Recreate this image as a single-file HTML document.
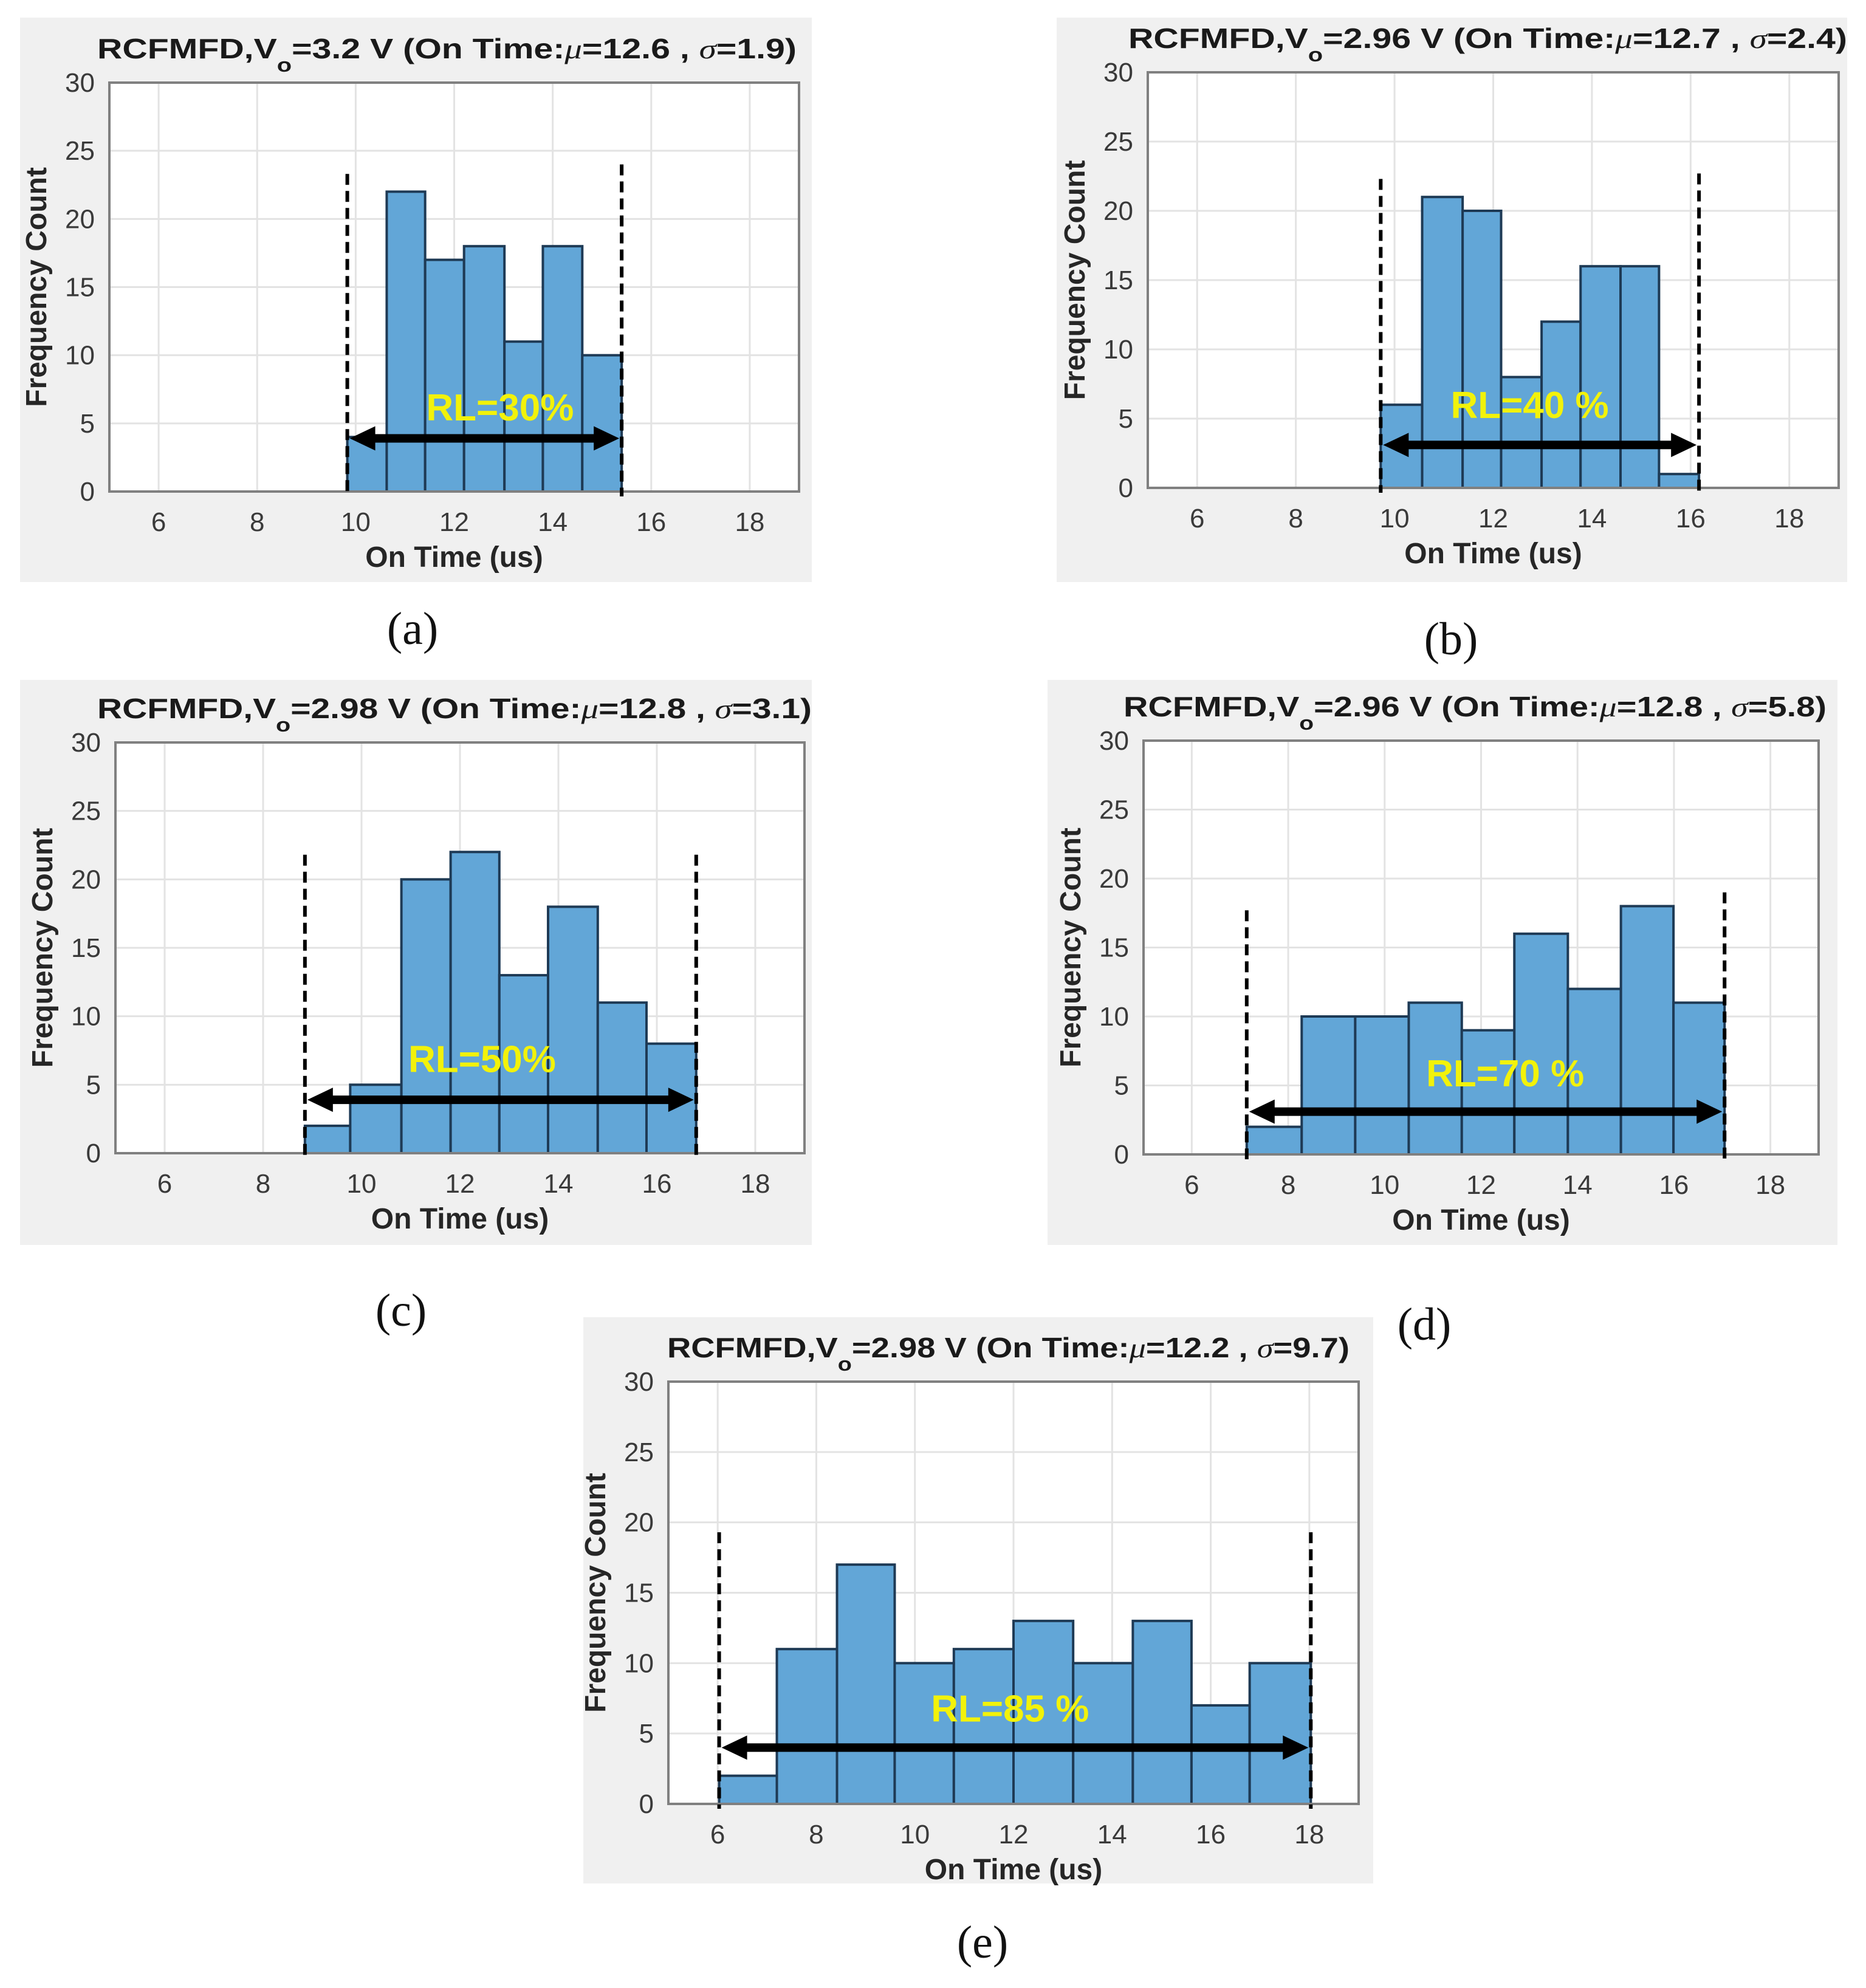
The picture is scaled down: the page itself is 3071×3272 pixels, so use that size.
<!DOCTYPE html>
<html><head><meta charset="utf-8"><style>
html,body{margin:0;padding:0;background:#fff;width:3071px;height:3272px;overflow:hidden}
svg{display:block}
text{font-family:"Liberation Sans",Arial,sans-serif}
</style></head><body>
<svg id="fig" width="3071" height="3272" viewBox="0 0 3071 3272" xmlns="http://www.w3.org/2000/svg"></svg>
<script>
// ---- data (one small array set per panel) ----
const xTicks = [6, 8, 10, 12, 14, 16, 18];
const yTicks = [0, 5, 10, 15, 20, 25, 30];
const panelIds = ['a', 'b', 'c', 'd', 'e'];
const voltages = ['3.2', '2.96', '2.98', '2.96', '2.98'];
const mus = ['12.6', '12.7', '12.8', '12.8', '12.2'];
const sigmas = ['1.9', '2.4', '3.1', '5.8', '9.7'];
const rlLabels = ['RL=30%', 'RL=40 %', 'RL=50%', 'RL=70 %', 'RL=85 %'];
const edgesA = [9.83, 10.63, 11.41, 12.2, 13.02, 13.8, 14.6, 15.4];
const countsA = [4, 22, 17, 18, 11, 18, 10];
const edgesB = [9.72, 10.56, 11.38, 12.16, 12.98, 13.77, 14.58, 15.36, 16.17];
const countsB = [6, 21, 20, 8, 12, 16, 16, 1];
const edgesC = [8.85, 9.77, 10.81, 11.81, 12.8, 13.79, 14.8, 15.79, 16.8];
const countsC = [2, 5, 20, 22, 13, 18, 11, 8];
const edgesD = [7.14, 8.28, 9.39, 10.5, 11.6, 12.69, 13.8, 14.9, 15.99, 17.05];
const countsD = [2, 10, 10, 11, 9, 16, 12, 18, 11];
const edgesE = [6.03, 7.2, 8.42, 9.59, 10.79, 12, 13.21, 14.42, 15.61, 16.79, 18.03];
const countsE = [2, 11, 17, 10, 11, 13, 10, 13, 7, 10];
const dashLeftTop = [23.3, 22.3, 21.8, 17.7, 19.3];
const dashRightTop = [24, 22.7, 21.8, 19, 19.3];
const arrowY = [3.9, 3.1, 3.9, 3.1, 4.0];
const rlX = [12.93, 12.74, 12.45, 12.5, 11.93];
const rlY = [6.2, 6.0, 6.9, 5.9, 6.8];

// ---- layout ----
const layouts = [
 {gx:33,gy:29,gw:1303,gh:929, px:180,py:136,pw:1135,ph:673, tx:160,tw:1151, lx:679,ly:1034},
 {gx:1739,gy:29,gw:1301,gh:929, px:1889,py:119,pw:1137,ph:684, tx:1857,tw:1183, lx:2388,ly:1051},
 {gx:33,gy:1119,gw:1303,gh:930, px:190,py:1222,pw:1134,ph:676, tx:160,tw:1176, lx:660,ly:2156},
 {gx:1724,gy:1119,gw:1300,gh:930, px:1882,py:1219,pw:1111,ph:681, tx:1849,tw:1157, lx:2344,ly:2179},
 {gx:960,gy:2168,gw:1300,gh:932, px:1100,py:2274,pw:1136,ph:695, tx:1098,tw:1123, lx:1617,ly:3196}
];
const allEdges = [edgesA, edgesB, edgesC, edgesD, edgesE];
const allCounts = [countsA, countsB, countsC, countsD, countsE];

const NS = 'http://www.w3.org/2000/svg';
const svg = document.getElementById('fig');
function mk(tag, attrs, parent, txt) {
  const e = document.createElementNS(NS, tag);
  for (const k in attrs) e.setAttribute(k, attrs[k]);
  if (txt !== undefined) e.textContent = txt;
  parent.appendChild(e);
  return e;
}

panelIds.forEach((pid, i) => {
  const L = layouts[i];
  const xs = v => L.px + (v - 5) / 14 * L.pw;
  const ys = v => L.py + L.ph - v / 30 * L.ph;
  const g = mk('g', {}, svg);
  
  

  const bg = mk('rect', {x:L.gx, y:L.gy, width:L.gw, height:L.gh, fill:'#f0f0f0'}, g);
  
  
  const pa = mk('rect', {x:L.px, y:L.py, width:L.pw, height:L.ph, fill:'#ffffff'}, g);
  
  

  xTicks.forEach(t => {
    const gl = mk('line', {x1:xs(t), x2:xs(t), y1:L.py, y2:L.py+L.ph, stroke:'#e3e3e3', 'stroke-width':3}, g);
    
    
  });
  yTicks.forEach(t => {
    const gl = mk('line', {x1:L.px, x2:L.px+L.pw, y1:ys(t), y2:ys(t), stroke:'#e3e3e3', 'stroke-width':3}, g);
    
    
  });

  const edges = allEdges[i], counts = allCounts[i];
  counts.forEach((c, k) => {
    const x0 = xs(edges[k]), x1 = xs(edges[k+1]);
    const b = mk('rect', {x:x0, y:ys(c), width:x1-x0, height:ys(0)-ys(c), fill:'#62a6d7', stroke:'#1e3a55', 'stroke-width':4}, g);
    
    
  });

  const fr = mk('rect', {x:L.px, y:L.py, width:L.pw, height:L.ph, fill:'none', stroke:'#808080', 'stroke-width':4}, g);
  
  

  xTicks.forEach(t => {
    const tl = mk('text', {x:xs(t), y:L.py+L.ph+65, 'font-size':44, fill:'#3a3a3a', 'text-anchor':'middle'}, g, String(t));
    
    
  });
  yTicks.forEach(t => {
    const tl = mk('text', {x:L.px-24, y:ys(t)+15, 'font-size':44, fill:'#3a3a3a', 'text-anchor':'end'}, g, String(t));
    
    
  });

  const xt = mk('text', {x:L.px+L.pw/2, y:L.py+L.ph+124, 'font-size':48, 'font-weight':'bold', fill:'#262626', 'text-anchor':'middle'}, g, 'On Time (us)');
  
  
  const cy = L.py + L.ph/2, cx = L.px - 104;
  const yt = mk('text', {x:cx, y:cy, 'font-size':48, 'font-weight':'bold', fill:'#262626', 'text-anchor':'middle', transform:'rotate(-90 '+cx+' '+cy+')'}, g, 'Frequency Count');
  
  

  const tt = mk('text', {x:L.tx, y:L.py-40, 'font-size':46, 'font-weight':'bold', fill:'#1a1a1a', textLength:L.tw, lengthAdjust:'spacingAndGlyphs'}, g);
  
  
  mk('tspan', {}, tt, 'RCFMFD,V');
  mk('tspan', {'font-size':32, dy:22}, tt, 'o');
  mk('tspan', {dy:-22}, tt, '=' + voltages[i] + ' V (On Time:');
  mk('tspan', {'font-style':'italic', 'font-weight':'normal', 'font-family':'"Liberation Serif",serif'}, tt, 'μ');
  mk('tspan', {}, tt, '=' + mus[i] + ' , ');
  mk('tspan', {'font-style':'italic', 'font-weight':'normal', 'font-family':'"Liberation Serif",serif'}, tt, 'σ');
  mk('tspan', {}, tt, '=' + sigmas[i] + ')');

  const e0 = edges[0], e1 = edges[edges.length-1];
  const dl = mk('line', {x1:xs(e0), x2:xs(e0), y1:ys(dashLeftTop[i]), y2:ys(0)+8, stroke:'#000', 'stroke-width':6, 'stroke-dasharray':'18 10'}, g);
  
  
  const dr = mk('line', {x1:xs(e1), x2:xs(e1), y1:ys(dashRightTop[i]), y2:ys(0)+8, stroke:'#000', 'stroke-width':6, 'stroke-dasharray':'18 10'}, g);
  
  

  const ay = ys(arrowY[i]), ax0 = xs(e0)+4, ax1 = xs(e1)-4;
  const ag = mk('g', {fill:'#000'}, g);
  
  
  mk('rect', {x:ax0+30, y:ay-7, width:ax1-ax0-60, height:14}, ag);
  mk('polygon', {points:(ax0)+','+ay+' '+(ax0+42)+','+(ay-20)+' '+(ax0+42)+','+(ay+20)}, ag);
  mk('polygon', {points:(ax1)+','+ay+' '+(ax1-42)+','+(ay-20)+' '+(ax1-42)+','+(ay+20)}, ag);

  const rl = mk('text', {x:xs(rlX[i]), y:ys(rlY[i])+22, 'font-size':62, 'font-weight':'bold', fill:'#f2f20a', 'text-anchor':'middle'}, g, rlLabels[i]);
  
  

  const pl = mk('text', {x:L.lx, y:L.ly+26, 'font-size':76, fill:'#111', 'text-anchor':'middle', 'font-family':'"Liberation Serif",serif'}, svg, '(' + pid + ')');
  pl.style.fontFamily = '"Liberation Serif", serif';
  
  
});
</script>
</body></html>
